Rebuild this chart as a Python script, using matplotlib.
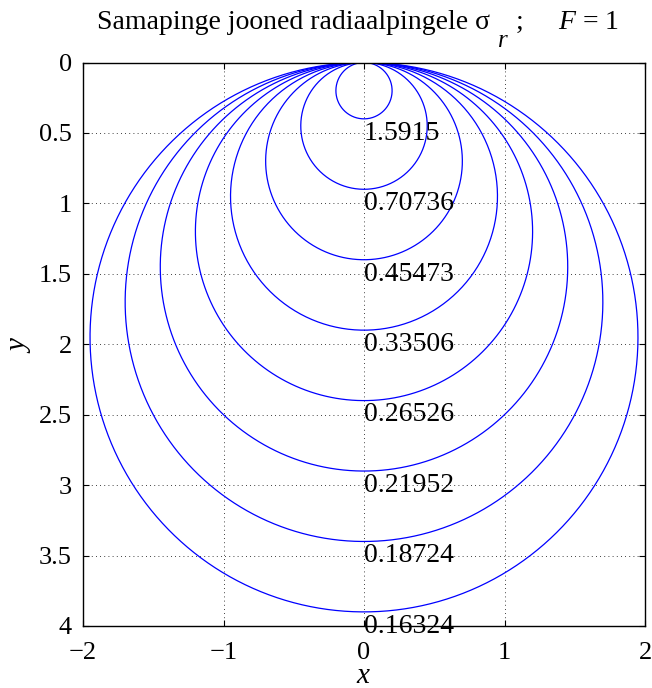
import numpy as np
import matplotlib.pyplot as plt

plt.rcParams['font.family'] = ['Liberation Serif', 'DejaVu Serif']
plt.rcParams['mathtext.fontset'] = 'custom'
plt.rcParams['mathtext.rm'] = 'Liberation Serif'
plt.rcParams['mathtext.it'] = 'Liberation Serif:italic'

F = 1
# stress levels labelled on the contours
sigma = [1.5915, 0.70736, 0.45473, 0.33506, 0.26526, 0.21952, 0.18724, 0.16324]
labels = ['1.5915', '0.70736', '0.45473', '0.33506', '0.26526', '0.21952', '0.18724', '0.16324']

W, H = 652, 688
fig = plt.figure(figsize=(W / 100, H / 100), dpi=100)
ax = fig.add_axes([83 / W, 62 / H, 562 / W, 563.5 / H])

t = np.linspace(0, 2 * np.pi, 400)
for s, lab in zip(sigma, labels):
    d = 2 * F / (np.pi * s)   # circle diameter for sigma_r = const
    ax.plot(d / 2 * np.sin(t), d / 2 - d / 2 * np.cos(t), color='blue', lw=0.9)
    ax.text(0, d + 0.148, lab, fontsize=20, ha='left', va='baseline', clip_on=False, zorder=5)

ax.set_xlim(-2, 2)
ax.set_ylim(4, 0)
ax.set_xticks([-2, -1, 0, 1, 2])
ax.set_xticklabels(['\u22122', '\u22121', '0', '1', '2'])
ax.set_yticks([0, 0.5, 1, 1.5, 2, 2.5, 3, 3.5, 4])
ax.set_yticklabels(['0', '0.5', '1', '1.5', '2', '2.5', '3', '3.5', '4'])
ax.tick_params(direction='in', length=4, width=0.8, labelsize=19, top=True, right=True)
ax.tick_params(axis='x', pad=11.5)
ax.tick_params(axis='y', pad=8)
ax.grid(True, color='black', linestyle=(0, (1, 4)), lw=0.6)
for sp in ax.spines.values():
    sp.set_linewidth(1.0)

ax.set_xlabel('$x$', fontsize=21, labelpad=-1)
ax.set_ylabel('$y$', fontsize=21, labelpad=4)

# title in pieces so the subscript r can sit low like the original
rend = fig.canvas.get_renderer()
base = H - 29
t1 = fig.text(0, base / H, 'Samapinge jooned radiaalpingele \u03c3', fontsize=20, va='baseline')
e1 = t1.get_window_extent(rend)
t2 = fig.text((e1.x1 + 8) / W, (base - 18) / H, 'r', fontsize=18, style='italic', va='baseline')
e2 = t2.get_window_extent(rend)
t3 = fig.text((e2.x1 + 8) / W, base / H, ';', fontsize=20, va='baseline')
e3 = t3.get_window_extent(rend)
t4 = fig.text((e3.x1 + 34) / W, base / H, '$F$ = 1', fontsize=20, va='baseline')
shift = 97 - e1.x0
for tt in (t1, t2, t3, t4):
    x, y = tt.get_position()
    tt.set_position((x + shift / W, y))

fig.savefig('out.png', dpi=100)
